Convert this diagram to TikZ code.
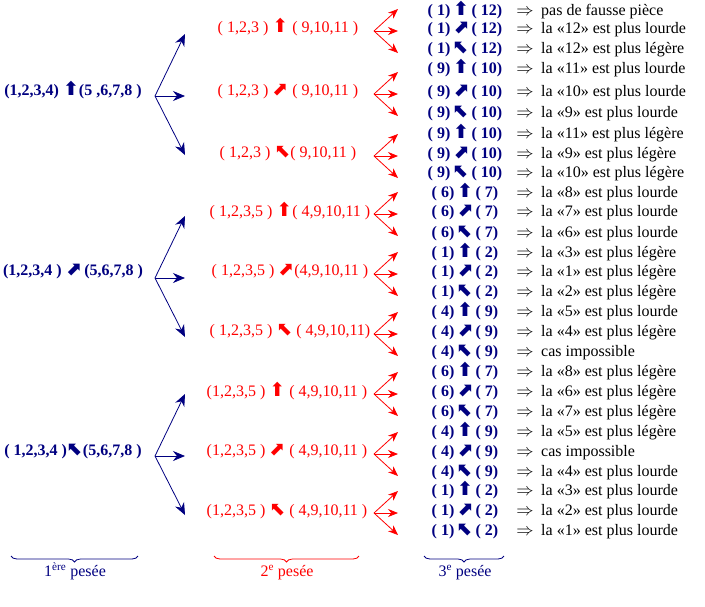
\documentclass[tikz,border=0pt]{standalone}
\usepackage{fontspec}
\setmainfont{Liberation Serif}
\newfontfamily\arrowfont{DejaVu Sans}
\usetikzlibrary{arrows.meta,decorations.pathreplacing}

\definecolor{navy}{RGB}{0,0,128}
\definecolor{vifrouge}{RGB}{255,0,0}

% fleches de la balance
\newcommand{\flU}{{\arrowfont\fontsize{19}{19}\selectfont ⬆}}
\newcommand{\flE}{{\arrowfont\fontsize{19}{19}\selectfont ⬈}}
\newcommand{\flW}{{\arrowfont\fontsize{19}{19}\selectfont ⬉}}

\begin{document}
\begin{tikzpicture}[x=1pt, y=-1pt,
  every node/.style={font=\fontsize{16}{19}\selectfont, inner sep=0pt,
    text height=1.5ex, text depth=.25ex},
  pesee1/.style={text=navy, font=\fontsize{16}{19}\selectfont\bfseries},
  pesee2/.style={text=vifrouge},
  pesee3/.style={text=navy, font=\fontsize{16}{19}\selectfont\bfseries},
  resultat/.style={anchor=west},
  bleufleche/.style={navy, line width=0.8pt, -{Stealth[length=12pt,width=10pt]}},
  rougefleche/.style={vifrouge, line width=0.8pt, -{Stealth[length=10pt,width=8pt]}},
  accolade/.style={decorate, decoration={brace, mirror, amplitude=6pt}, line width=0.8pt}
]
\useasboundingbox (0,0) rectangle (705,606);

% --------- 1re pesee ----------
\node[pesee1] (g1) at (73,93)  {(1,2,3,4) \flU(5 ,6,7,8 )};
\node[pesee1] (g2) at (73,273) {(1,2,3,4 ) \flE\,(5,6,7,8 )};
\node[pesee1] (g3) at (73,453) {( 1,2,3,4 )\flW(5,6,7,8 )};

% --------- 2e pesee ----------
\node[pesee2] (m1) at (288,30)  {( 1,2,3 ) \flU\ ( 9,10,11 )};
\node[pesee2] (m2) at (288,93)  {( 1,2,3 ) \flE\ ( 9,10,11 )};
\node[pesee2] (m3) at (288,155) {( 1,2,3 ) \flW( 9,10,11 )};
\node[pesee2] (m4) at (290,214) {( 1,2,3,5 ) \flU( 4,9,10,11 )};
\node[pesee2] (m5) at (290,273) {( 1,2,3,5 ) \flE(4,9,10,11 )};
\node[pesee2] (m6) at (290,333) {( 1,2,3,5 ) \flW\ ( 4,9,10,11)};
\node[pesee2] (m7) at (287,394) {(1,2,3,5 ) \flU\ ( 4,9,10,11 )};
\node[pesee2] (m8) at (287,453) {(1,2,3,5 ) \flE\ ( 4,9,10,11 )};
\node[pesee2] (m9) at (287,513) {(1,2,3,5 ) \flW\ ( 4,9,10,11 )};

% Fleches bleues vers la 2e pesee
\foreach \g/\y in {1/96, 2/278, 3/456}{
  \coordinate (g\g o) at (155,\y);
  \coordinate (g\g h) at (185,\y-62);
  \coordinate (g\g m) at (185,\y);
  \coordinate (g\g b) at (185,\y+59);
  \draw[bleufleche] (g\g o) -- (g\g h);
  \draw[bleufleche] (g\g o) -- (g\g m);
  \draw[bleufleche] (g\g o) -- (g\g b);
}

% Fleches rouges vers la 3e pesee
\foreach \j/\y in {1/31, 2/94, 3/156, 4/214, 5/274, 6/334, 7/394, 8/454, 9/513}{
  \coordinate (m\j o) at (374,\y);
  \coordinate (m\j h) at (398,\y-22);
  \coordinate (m\j m) at (398,\y);
  \coordinate (m\j b) at (398,\y+22);
  \draw[rougefleche] (m\j o) -- (m\j h);
  \draw[rougefleche] (m\j o) -- (m\j m);
  \draw[rougefleche] (m\j o) -- (m\j b);
}

% --------- 3e pesee et conclusions ----------
\foreach \y/\a/\s/\b/\r [count=\i] in {
  13/1/U/12/{pas de fausse pièce},
  31/1/E/12/{la «12» est plus lourde},
  51/1/W/12/{la «12» est plus légère},
  71/9/U/10/{la «11» est plus lourde},
  94/9/E/10/{la «10» est plus lourde},
  115/9/W/10/{la «9» est plus lourde},
  136/9/U/10/{la «11» est plus légère},
  156/9/E/10/{la «9» est plus légère},
  175/9/W/10/{la «10» est plus légère},
  195/6/U/7/{la «8» est plus lourde},
  214/6/E/7/{la «7» est plus lourde},
  235/6/W/7/{la «6» est plus lourde},
  255/1/U/2/{la «3» est plus légère},
  274/1/E/2/{la «1» est plus légère},
  294/1/W/2/{la «2» est plus légère},
  314/4/U/9/{la «5» est plus lourde},
  334/4/E/9/{la «4» est plus légère},
  354/4/W/9/{cas impossible},
  374/6/U/7/{la «8» est plus légère},
  394/6/E/7/{la «6» est plus légère},
  414/6/W/7/{la «7» est plus légère},
  434/4/U/9/{la «5» est plus légère},
  454/4/E/9/{cas impossible},
  474/4/W/9/{la «4» est plus lourde},
  493/1/U/2/{la «3» est plus lourde},
  513/1/E/2/{la «2» est plus lourde},
  533/1/W/2/{la «1» est plus lourde}}{
  \node[pesee3] (r\i) at (465,\y) {( \a )\,\csname fl\s\endcsname\,( \b )};
  \node (i\i) at (525,\y) {$\Rightarrow$};
  \node[resultat] (t\i) at (541,\y) {\r};
}

% --------- Accolades du bas ----------
\draw[accolade, navy]     (11,556)  -- (138,556);
\draw[accolade, vifrouge] (214,556) -- (359,556);
\draw[accolade, navy]     (424,556) -- (504,556);

\node[text=navy]     (p1) at (75,574)  {1\textsuperscript{ère} pesée};
\node[text=vifrouge] (p2) at (287,574) {2\textsuperscript{e} pesée};
\node[text=navy]     (p3) at (465,574) {3\textsuperscript{e} pesée};

\end{tikzpicture}
\end{document}
